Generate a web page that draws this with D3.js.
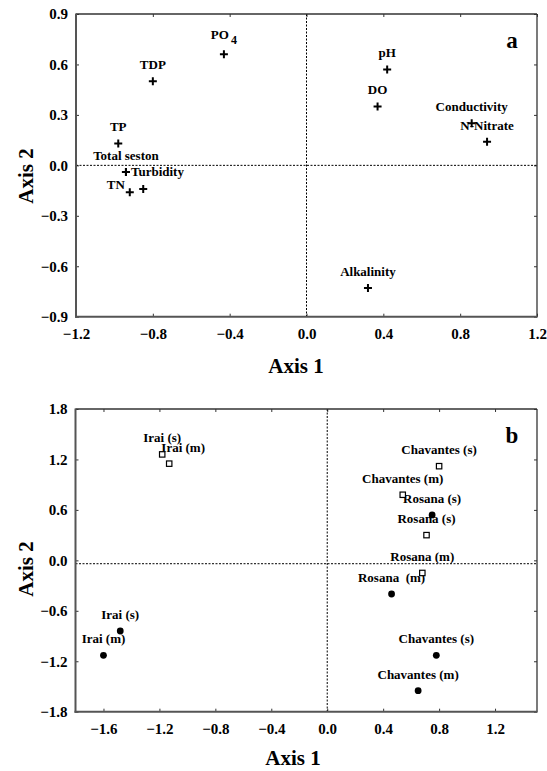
<!DOCTYPE html>
<html>
<head>
<meta charset="utf-8">
<script src="https://cdn.jsdelivr.net/npm/d3@7"></script>
<style>
  html, body { margin: 0; padding: 0; background: #fff; }
  svg { display: block; }
  text { font-family: "Liberation Serif", "Times New Roman", serif !important; font-weight: bold; fill: #000; }
</style>
</head>
<body>
<svg id="chart" width="547" height="771"></svg>
<script>
// ---------- Panel a: variables ----------
const varNames  = ["PO4", "TDP", "TP", "Total seston", "Turbidity", "TN", "", "pH", "DO", "Conductivity", "N-Nitrate", "Alkalinity"];
const varAxis1  = [-0.43, -0.80, -0.98, -0.94, -0.94, -0.92, -0.85, 0.42, 0.37, 0.86, 0.94, 0.32];
const varAxis2  = [0.66, 0.50, 0.13, -0.04, -0.04, -0.16, -0.14, 0.57, 0.35, 0.25, 0.14, -0.73];
const varLabelSide = ["above", "above", "above", "above", "right", "left", "none", "above", "above", "above", "above", "above"];

const aXTicks = [-1.2, -0.8, -0.4, 0.0, 0.4, 0.8, 1.2];
const aYTicks = [-0.9, -0.6, -0.3, 0.0, 0.3, 0.6, 0.9];
const aXDomain = [-1.2, 1.2];
const aYDomain = [-0.9, 0.9];
const aRefX = 0.0, aRefY = 0.0;

// ---------- Panel b: sites ----------
const squareNames = ["Irai (s)", "Irai (m)", "Chavantes (s)", "Chavantes (m)", "Rosana (s)", "Rosana (m)"];
const squareAxis1 = [-1.18, -1.13, 0.80, 0.54, 0.71, 0.68];
const squareAxis2 = [1.26, 1.15, 1.12, 0.78, 0.30, -0.15];
const circleNames = ["Irai (s)", "Irai (m)", "Chavantes (s)", "Chavantes (m)", "Rosana (s)", "Rosana\u00a0\u00a0(m)"];
const circleAxis1 = [-1.48, -1.60, 0.78, 0.65, 0.75, 0.46];
const circleAxis2 = [-0.84, -1.13, -1.13, -1.55, 0.54, -0.40];

const bXTicks = [-1.6, -1.2, -0.8, -0.4, 0.0, 0.4, 0.8, 1.2];
const bYTicks = [-1.8, -1.2, -0.6, 0.0, 0.6, 1.2, 1.8];
const bXDomain = [-1.8, 1.5];
const bYDomain = [-1.8, 1.8];
const bRefX = 0.0, bRefY = -0.04;

// ---------- layout ----------
const FONT = "'Liberation Serif', 'Times New Roman', serif";
const svg = d3.select("#chart");
svg.append("rect").attr("width", 547).attr("height", 771).attr("fill", "#fff");

const panelA = { x0: 76, x1: 537, y0: 14, y1: 316.7, letter: "a", letterX: 512, letterY: 47.5,
                 titleX: 296, titleY: 373, ytitleX: 33, ytitleY: 176 };
const panelB = { x0: 75.5, x1: 537, y0: 409, y1: 711.7, letter: "b", letterX: 512, letterY: 443,
                 titleX: 293, titleY: 765, ytitleX: 33, ytitleY: 569 };

function styleTicks(s) {
  s.attr("font-family", FONT);
  s.selectAll("text").attr("font-size", 15).style("font-family", FONT).style("font-weight", "bold");
  s.selectAll("line").attr("stroke", "#333");
}

function drawFrame(p, xs, ys, xTicks, yTicks, refX, refY) {
  const g = svg.append("g");
  const fmt = d => d3.format(".1f")(d);
  g.append("g").attr("transform", `translate(0,${p.y1})`)
    .call(d3.axisBottom(xs).tickValues(xTicks).tickFormat(fmt).tickSizeInner(-3).tickSizeOuter(0).tickPadding(11.5))
    .call(s => { s.select(".domain").remove(); styleTicks(s); });
  g.append("g").attr("transform", `translate(0,${p.y0})`)
    .call(d3.axisTop(xs).tickValues(xTicks).tickFormat("").tickSizeInner(-3).tickSizeOuter(0))
    .call(s => { s.select(".domain").remove(); styleTicks(s); });
  g.append("g").attr("transform", `translate(${p.x0},0)`)
    .call(d3.axisLeft(ys).tickValues(yTicks).tickFormat(fmt).tickSizeInner(-3).tickSizeOuter(0).tickPadding(8))
    .call(s => { s.select(".domain").remove(); styleTicks(s); });
  g.append("g").attr("transform", `translate(${p.x1},0)`)
    .call(d3.axisRight(ys).tickValues(yTicks).tickFormat("").tickSizeInner(-3).tickSizeOuter(0))
    .call(s => { s.select(".domain").remove(); styleTicks(s); });

  // reference dotted lines
  g.append("line").attr("x1", xs(refX)).attr("x2", xs(refX)).attr("y1", p.y0).attr("y2", p.y1)
    .attr("stroke", "#000").attr("stroke-width", 1).attr("stroke-dasharray", "2,1.5");
  g.append("line").attr("x1", p.x0).attr("x2", p.x1).attr("y1", ys(refY)).attr("y2", ys(refY))
    .attr("stroke", "#000").attr("stroke-width", 1).attr("stroke-dasharray", "2,1.5");

  // frame
  g.append("line").attr("x1", p.x0).attr("x2", p.x1).attr("y1", p.y0).attr("y2", p.y0).attr("stroke", "#333").attr("stroke-width", 1.3);
  g.append("line").attr("x1", p.x1).attr("x2", p.x1).attr("y1", p.y0).attr("y2", p.y1).attr("stroke", "#333").attr("stroke-width", 1.3);
  g.append("line").attr("x1", p.x0).attr("x2", p.x0).attr("y1", p.y0 - 0.6).attr("y2", p.y1 + 1).attr("stroke", "#555").attr("stroke-width", 2);
  g.append("line").attr("x1", p.x0 - 1).attr("x2", p.x1 + 0.6).attr("y1", p.y1).attr("y2", p.y1).attr("stroke", "#555").attr("stroke-width", 2);

  // titles
  svg.append("text").attr("x", p.titleX).attr("y", p.titleY).attr("text-anchor", "middle").attr("font-size", 21).text("Axis 1");
  svg.append("text").attr("transform", `translate(${p.ytitleX},${p.ytitleY}) rotate(-90)`).attr("text-anchor", "middle").attr("font-size", 21).text("Axis 2");
  svg.append("text").attr("x", p.letterX).attr("y", p.letterY).attr("text-anchor", "middle").attr("font-size", 23).text(p.letter);
}

// ---------- Panel a ----------
const xa = d3.scaleLinear().domain(aXDomain).range([panelA.x0, panelA.x1]);
const ya = d3.scaleLinear().domain(aYDomain).range([panelA.y1, panelA.y0]);
drawFrame(panelA, xa, ya, aXTicks, aYTicks, aRefX, aRefY);

const varData = varNames.map((n, i) => ({ name: n, x: varAxis1[i], y: varAxis2[i], side: varLabelSide[i] }));
const ga = svg.append("g");
ga.selectAll("path.cross").data(varData).join("path")
  .attr("class", "cross")
  .attr("d", d => { const cx = xa(d.x), cy = ya(d.y), r = 4; return `M${cx - r},${cy}H${cx + r}M${cx},${cy - r}V${cy + r}`; })
  .attr("stroke", "#000").attr("stroke-width", 2).attr("fill", "none");

ga.selectAll("text.lab").data(varData.filter(d => d.side !== "none")).join("text")
  .attr("class", "lab")
  .attr("font-size", 13)
  .attr("x", d => xa(d.x) + (d.side === "right" ? 5 : d.side === "left" ? -5 : 0))
  .attr("y", d => ya(d.y) + (d.side === "right" ? 4 : d.side === "left" ? -3 : -12))
  .attr("text-anchor", d => d.side === "right" ? "start" : d.side === "left" ? "end" : "middle")
  .each(function(d) {
    const t = d3.select(this);
    if (d.name === "PO4") {
      t.append("tspan").text("PO");
      t.append("tspan").attr("dy", 5).attr("dx", 2).attr("font-size", 12).text("4");
      t.attr("dy", -3);
    } else {
      t.text(d.name);
    }
  });

// ---------- Panel b ----------
const xb = d3.scaleLinear().domain(bXDomain).range([panelB.x0, panelB.x1]);
const yb = d3.scaleLinear().domain(bYDomain).range([panelB.y1, panelB.y0]);
drawFrame(panelB, xb, yb, bXTicks, bYTicks, bRefX, bRefY);

const labelShiftB = { "sq-1": 14 };
const sqData = squareNames.map((n, i) => ({ name: n, x: squareAxis1[i], y: squareAxis2[i], key: "sq-" + i }));
const ciData = circleNames.map((n, i) => ({ name: n, x: circleAxis1[i], y: circleAxis2[i], key: "ci-" + i }));
const gb = svg.append("g");

gb.selectAll("text.sl").data(sqData.concat(ciData)).join("text")
  .attr("class", "sl").attr("font-size", 13).attr("text-anchor", "middle")
  .attr("x", d => xb(d.x) + (labelShiftB[d.key] || 0))
  .attr("y", d => yb(d.y) - 12)
  .text(d => d.name);

gb.selectAll("rect.sq").data(sqData).join("rect")
  .attr("class", "sq")
  .attr("x", d => xb(d.x) - 2.7).attr("y", d => yb(d.y) - 2.7)
  .attr("width", 5.4).attr("height", 5.4)
  .attr("fill", "#fff").attr("stroke", "#000").attr("stroke-width", 1.2);

gb.selectAll("circle.ci").data(ciData).join("circle")
  .attr("class", "ci")
  .attr("cx", d => xb(d.x)).attr("cy", d => yb(d.y)).attr("r", 3.4)
  .attr("fill", "#000");
</script>
</body>
</html>
